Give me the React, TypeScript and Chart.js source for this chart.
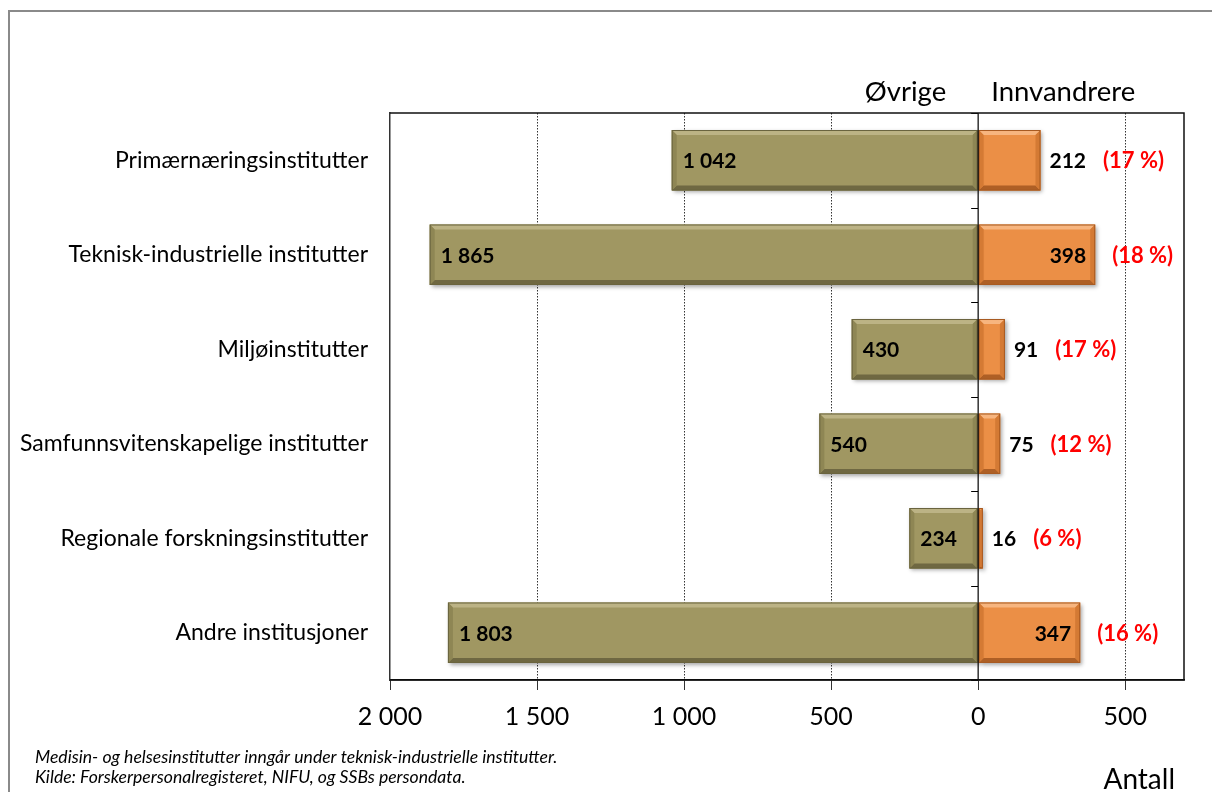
import React, { useEffect, useRef } from "react";
import { Chart, registerables } from "chart.js";

Chart.register(...registerables);

const categories = [
  "Primærnæringsinstitutter",
  "Teknisk-industrielle institutter",
  "Miljøinstitutter",
  "Samfunnsvitenskapelige institutter",
  "Regionale forskningsinstitutter",
  "Andre institusjoner",
];
const ovrige = [1042, 1865, 430, 540, 234, 1803];
const innvandrere = [212, 398, 91, 75, 16, 347];
const andelProsent = [17, 18, 17, 12, 6, 16];
const xTickValues = [-2000, -1500, -1000, -500, 0, 500];
const seriesNames = ["Øvrige", "Innvandrere"];
const axisTitle = "Antall";
const notes = [
  "Medisin- og helsesinstitutter inngår under teknisk-industrielle institutter.",
  "Kilde: Forskerpersonalregisteret, NIFU, og SSBs persondata.",
];

const FONT = "Lato, 'Open Sans', sans-serif";
const W = 1204;
const H = 784;

const fmt = (v: number) =>
  String(Math.abs(Math.round(v))).replace(/\B(?=(\d{3})+(?!\d))/g, " ");

const palettes = [
  { face: "#A09762", light: "#BCB385", side: "#8E8654", dark: "#6F6842", line: "#6A643F" },
  { face: "#EB8F46", light: "#F7B57F", side: "#D47A34", dark: "#AE5F25", line: "#A85A22" },
];

const decorPlugin = {
  id: "decor",
  beforeDatasetsDraw(chart: any) {
    const ctx = chart.ctx;
    ctx.save();
    ctx.shadowColor = "rgba(0,0,0,0.35)";
    ctx.shadowBlur = 4;
    ctx.shadowOffsetX = 2;
    ctx.shadowOffsetY = 2;
  },
  afterDatasetsDraw(chart: any) {
    const ctx = chart.ctx;
    ctx.restore();
    const area = chart.chartArea;
    const xs = chart.scales.x;
    const x0 = xs.getPixelForValue(0);

    // bevels
    chart.data.datasets.forEach((ds: any, di: number) => {
      const meta = chart.getDatasetMeta(di);
      const p = palettes[di];
      meta.data.forEach((el: any) => {
        const { x, y, base, height } = el.getProps(["x", "y", "base", "height"], true);
        const L = Math.min(x, base);
        const R = Math.max(x, base);
        const T = y - height / 2;
        const B = y + height / 2;
        const w = Math.min(5, (R - L) / 2, (B - T) / 2);
        const poly = (pts: number[][], c: string) => {
          ctx.beginPath();
          ctx.moveTo(pts[0][0], pts[0][1]);
          for (let i = 1; i < pts.length; i++) ctx.lineTo(pts[i][0], pts[i][1]);
          ctx.closePath();
          ctx.fillStyle = c;
          ctx.fill();
        };
        poly([[L, T], [R, T], [R - w, T + w], [L + w, T + w]], p.light);
        poly([[L, B], [R, B], [R - w, B - w], [L + w, B - w]], p.dark);
        poly([[L, T], [L + w, T + w], [L + w, B - w], [L, B]], p.side);
        poly([[R, T], [R - w, T + w], [R - w, B - w], [R, B]], p.side);
        ctx.strokeStyle = p.line;
        ctx.lineWidth = 1;
        ctx.strokeRect(L + 0.5, T + 0.5, R - L - 1, B - T - 1);
      });
    });

    // zero line with ticks
    ctx.save();
    ctx.strokeStyle = "#000";
    ctx.lineWidth = 1.2;
    ctx.beginPath();
    ctx.moveTo(x0, area.top);
    ctx.lineTo(x0, area.bottom);
    const n = categories.length;
    const step = (area.bottom - area.top) / n;
    for (let i = 0; i <= n; i++) {
      const yy = Math.round(area.top + i * step) + 0.5;
      ctx.moveTo(x0 - 7, yy);
      ctx.lineTo(x0, yy);
    }
    ctx.stroke();
    ctx.restore();

    // data labels
    const m0 = chart.getDatasetMeta(0);
    const m1 = chart.getDatasetMeta(1);
    ctx.save();
    ctx.textBaseline = "middle";
    ctx.font = `bold 21px ${FONT}`;
    m0.data.forEach((el: any, i: number) => {
      const { x, y } = el.getProps(["x", "y"], true);
      ctx.fillStyle = "#000";
      ctx.textAlign = "left";
      ctx.fillText(fmt(ovrige[i]), x + 11, y + 1);
    });
    m1.data.forEach((el: any, i: number) => {
      const { x, y, base } = el.getProps(["x", "y", "base"], true);
      ctx.font = `bold 21px ${FONT}`;
      const txt = fmt(innvandrere[i]);
      const tw = ctx.measureText(txt).width;
      let endX: number;
      ctx.fillStyle = "#000";
      if (x - base > tw + 45) {
        ctx.textAlign = "right";
        ctx.fillText(txt, x - 9, y + 1);
        endX = x;
      } else {
        ctx.textAlign = "left";
        ctx.fillText(txt, x + 9, y + 1);
        endX = x + 9 + tw;
      }
      ctx.font = `bold 22px ${FONT}`;
      ctx.fillStyle = "#FF0000";
      ctx.textAlign = "left";
      ctx.fillText(`(${andelProsent[i]} %)`, endX + 17, y + 1);
    });
    ctx.restore();
  },
  afterDraw(chart: any) {
    const ctx = chart.ctx;
    const area = chart.chartArea;
    const xs = chart.scales.x;
    const x0 = xs.getPixelForValue(0);
    ctx.save();
    // plot box top/right
    ctx.strokeStyle = "#111";
    ctx.lineWidth = 1.5;
    ctx.beginPath();
    ctx.moveTo(area.left, area.top);
    ctx.lineTo(area.right, area.top);
    ctx.lineTo(area.right, area.bottom);
    ctx.lineTo(area.left, area.bottom);
    ctx.stroke();

    // series titles
    ctx.fillStyle = "#000";
    ctx.textBaseline = "middle";
    ctx.font = `27.5px ${FONT}`;
    ctx.textAlign = "right";
    ctx.fillText(seriesNames[0], x0 - 32, area.top - 21);
    ctx.textAlign = "left";
    ctx.fillText(seriesNames[1], x0 + 13, area.top - 21);

    // axis title
    ctx.textAlign = "right";
    ctx.font = `28px ${FONT}`;
    ctx.fillText(axisTitle, area.right - 9, 772);

    // notes
    ctx.font = `italic 17.6px ${FONT}`;
    ctx.textAlign = "left";
    ctx.fillText(notes[0], 27, 749);
    ctx.fillText(notes[1], 27, 769);
    ctx.restore();
  },
};

export default function App() {
  const ref = useRef<HTMLCanvasElement | null>(null);
  useEffect(() => {
    if (!ref.current) return;
    const chart = new Chart(ref.current, {
      type: "bar",
      data: {
        labels: categories,
        datasets: [
          {
            label: seriesNames[0],
            data: ovrige.map((v) => -v),
            backgroundColor: palettes[0].face,
            barPercentage: 0.64,
            categoryPercentage: 1,
          },
          {
            label: seriesNames[1],
            data: innvandrere,
            backgroundColor: palettes[1].face,
            barPercentage: 0.64,
            categoryPercentage: 1,
          },
        ],
      },
      options: {
        indexAxis: "y",
        responsive: false,
        animation: false,
        layout: { padding: { top: 105, right: 28, left: 0, bottom: 0 } },
        plugins: { legend: { display: false }, tooltip: { enabled: false } },
        scales: {
          x: {
            type: "linear",
            stacked: true,
            min: -2000,
            max: 700,
            afterBuildTicks: (s: any) => {
              s.ticks = xTickValues.map((v) => ({ value: v }));
            },
            afterFit: (s: any) => {
              s.height = 112;
            },
            ticks: {
              callback: (v: any) => fmt(Number(v)),
              color: "#000",
              font: { family: FONT, size: 25 },
              padding: 12,
              maxRotation: 0,
            },
            grid: {
              color: (c: any) =>
                c.tick && (c.tick.value === 0 || c.tick.value === -2000)
                  ? "rgba(0,0,0,0)"
                  : "#333",
              lineWidth: 1,
              tickLength: 10,
              tickColor: "#333",
              tickBorderDash: [],
              drawOnChartArea: true,
            },
            border: { display: true, color: "#000", width: 1.5, dash: [1.5, 1.5] },
          },
          y: {
            stacked: true,
            afterFit: (s: any) => {
              s.width = 382;
            },
            ticks: {
              color: "#000",
              font: { family: FONT, size: 23 },
              padding: 22,
            },
            grid: { display: false, drawTicks: false },
            border: { display: true, color: "#333", width: 1.5 },
          },
        },
      },
      plugins: [decorPlugin],
    } as any);
    return () => chart.destroy();
  }, []);

  return (
    <div style={{ position: "relative", width: W, height: H }}>
      <div
        style={{
          position: "absolute",
          left: 0,
          top: 2,
          width: W + 20,
          height: H + 20,
          borderLeft: "2px solid #8a8a8a",
          borderTop: "2px solid #8a8a8a",
          boxSizing: "border-box",
          pointerEvents: "none",
        }}
      />
      <canvas ref={ref} width={W} height={H} style={{ position: "absolute", left: 0, top: 0 }} />
    </div>
  );
}
